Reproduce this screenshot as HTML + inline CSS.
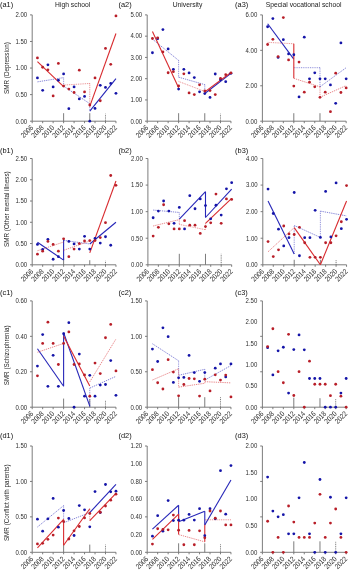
<!DOCTYPE html>
<html><head><meta charset="utf-8"><style>
html,body{margin:0;padding:0;background:#fff;width:350px;height:570px;overflow:hidden;position:relative}
svg text{filter:grayscale(1)}
</style></head><body>
<svg width="350" height="570" viewBox="0 0 350 570" style="position:absolute;left:0;top:0">
<g font-family='"Liberation Sans", sans-serif'>
<text x="72.7" y="7.1" font-size="6.75" fill="#222" text-anchor="middle">High school</text>
<text x="187.5" y="7.1" font-size="6.75" fill="#222" text-anchor="middle">University</text>
<text x="303.6" y="7.1" font-size="6.75" fill="#222" text-anchor="middle">Special vocational school</text>
<text transform="translate(9.0 68.0) rotate(-90)" font-size="6.3" fill="#262626" text-anchor="middle">SMR (Depression)</text>
<text transform="translate(9.0 209.1) rotate(-90)" font-size="6.3" fill="#262626" text-anchor="middle">SMR (Other mental illness)</text>
<text transform="translate(9.0 355.4) rotate(-90)" font-size="6.3" fill="#262626" text-anchor="middle">SMR (Schizophrenia)</text>
<text transform="translate(9.0 502.8) rotate(-90)" font-size="6.3" fill="#262626" text-anchor="middle">SMR (Conflict with parents)</text>
<text x="0" y="6.6" font-size="7.4" fill="#111">(a1)</text>
<path d="M32.2 14.9V121.2H115.96" fill="none" stroke="#6e6e6e" stroke-width="0.9"/>
<path d="M30 121.2H32.2M30 94.62H32.2M30 68.05H32.2M30 41.48H32.2M30 14.9H32.2M32.2 121.2v2.0M42.67 121.2v2.0M53.14 121.2v2.0M63.61 121.2v2.0M74.08 121.2v2.0M84.55 121.2v2.0M95.02 121.2v2.0M105.49 121.2v2.0M115.96 121.2v2.0" fill="none" stroke="#6e6e6e" stroke-width="0.9"/>
<path d="M63.61 121.2v-8" stroke="#6e6e6e" stroke-width="0.9"/>
<path d="M89.78 121.2v-8" stroke="#6e6e6e" stroke-width="0.9"/>
<path d="M105.49 121.2v-7.5" stroke="#6e6e6e" stroke-width="0.9" stroke-dasharray="1 0.8"/>
<text x="27.1" y="123.5" font-size="6.8" fill="#2e2e2e" text-anchor="end" textLength="11.7" lengthAdjust="spacingAndGlyphs">0.00</text>
<text x="27.1" y="96.92" font-size="6.8" fill="#2e2e2e" text-anchor="end" textLength="11.7" lengthAdjust="spacingAndGlyphs">0.50</text>
<text x="27.1" y="70.35" font-size="6.8" fill="#2e2e2e" text-anchor="end" textLength="11.7" lengthAdjust="spacingAndGlyphs">1.00</text>
<text x="27.1" y="43.78" font-size="6.8" fill="#2e2e2e" text-anchor="end" textLength="11.7" lengthAdjust="spacingAndGlyphs">1.50</text>
<text x="27.1" y="17.2" font-size="6.8" fill="#2e2e2e" text-anchor="end" textLength="11.7" lengthAdjust="spacingAndGlyphs">2.00</text>
<text transform="translate(33.8 128.3) rotate(-45)" font-size="7.4" fill="#2e2e2e" text-anchor="end" textLength="14.2" lengthAdjust="spacingAndGlyphs">2006</text>
<text transform="translate(44.27 128.3) rotate(-45)" font-size="7.4" fill="#2e2e2e" text-anchor="end" textLength="14.2" lengthAdjust="spacingAndGlyphs">2008</text>
<text transform="translate(54.74 128.3) rotate(-45)" font-size="7.4" fill="#2e2e2e" text-anchor="end" textLength="14.2" lengthAdjust="spacingAndGlyphs">2010</text>
<text transform="translate(65.21 128.3) rotate(-45)" font-size="7.4" fill="#2e2e2e" text-anchor="end" textLength="14.2" lengthAdjust="spacingAndGlyphs">2012</text>
<text transform="translate(75.68 128.3) rotate(-45)" font-size="7.4" fill="#2e2e2e" text-anchor="end" textLength="14.2" lengthAdjust="spacingAndGlyphs">2014</text>
<text transform="translate(86.15 128.3) rotate(-45)" font-size="7.4" fill="#2e2e2e" text-anchor="end" textLength="14.2" lengthAdjust="spacingAndGlyphs">2016</text>
<text transform="translate(96.62 128.3) rotate(-45)" font-size="7.4" fill="#2e2e2e" text-anchor="end" textLength="14.2" lengthAdjust="spacingAndGlyphs">2018</text>
<text transform="translate(107.09 128.3) rotate(-45)" font-size="7.4" fill="#2e2e2e" text-anchor="end" textLength="14.2" lengthAdjust="spacingAndGlyphs">2020</text>
<text transform="translate(117.56 128.3) rotate(-45)" font-size="7.4" fill="#2e2e2e" text-anchor="end" textLength="14.2" lengthAdjust="spacingAndGlyphs">2022</text>
<path d="M37.44 81.87 L63.61 77.62" fill="none" stroke="#2626b8" stroke-width="0.7" stroke-dasharray="1.3 0.9" opacity="0.8"/>
<path d="M63.61 77.62 L63.61 85.06" fill="none" stroke="#2626b8" stroke-width="0.7" stroke-dasharray="0.9 0.9" opacity="0.8"/>
<path d="M63.61 86.12 L89.78 103.66" fill="none" stroke="#2626b8" stroke-width="0.7" stroke-dasharray="1.3 0.9" opacity="0.8"/>
<path d="M89.78 111.1 L115.96 78.68" fill="none" stroke="#2626b8" stroke-width="1.1"/>
<path d="M89.78 103.66 L89.78 111.1" fill="none" stroke="#2626b8" stroke-width="0.7" stroke-dasharray="0.9 0.9" opacity="0.8"/>
<path d="M37.44 61.67 L63.61 86.65" fill="none" stroke="#d82a2e" stroke-width="1.1"/>
<path d="M63.61 85.06 L89.78 83.46" fill="none" stroke="#d82a2e" stroke-width="0.7" stroke-dasharray="0.9 0.9" opacity="0.8"/>
<path d="M89.78 83.46 L89.78 105.26" fill="none" stroke="#d82a2e" stroke-width="0.7" stroke-dasharray="0.9 0.9" opacity="0.8"/>
<path d="M89.78 106.32 L115.96 33.5" fill="none" stroke="#d82a2e" stroke-width="1.1"/>
<circle cx="37.44" cy="77.88" r="1.4" fill="#1414a8"/>
<circle cx="42.67" cy="90.37" r="1.4" fill="#1414a8"/>
<circle cx="47.91" cy="64.86" r="1.4" fill="#1414a8"/>
<circle cx="53.14" cy="86.92" r="1.4" fill="#1414a8"/>
<circle cx="58.38" cy="80.27" r="1.4" fill="#1414a8"/>
<circle cx="63.61" cy="73.9" r="1.4" fill="#1414a8"/>
<circle cx="68.84" cy="108.71" r="1.4" fill="#1414a8"/>
<circle cx="74.08" cy="86.92" r="1.4" fill="#1414a8"/>
<circle cx="79.31" cy="98.88" r="1.4" fill="#1414a8"/>
<circle cx="84.55" cy="96.43" r="1.4" fill="#1414a8"/>
<circle cx="89.78" cy="121.2" r="1.4" fill="#1414a8"/>
<circle cx="95.02" cy="108.44" r="1.4" fill="#1414a8"/>
<circle cx="100.26" cy="85.32" r="1.4" fill="#1414a8"/>
<circle cx="105.49" cy="87.45" r="1.4" fill="#1414a8"/>
<circle cx="110.73" cy="83.46" r="1.4" fill="#1414a8"/>
<circle cx="115.96" cy="93.3" r="1.4" fill="#1414a8"/>
<circle cx="37.44" cy="57.95" r="1.4" fill="#b81e28"/>
<circle cx="42.67" cy="67.25" r="1.4" fill="#b81e28"/>
<circle cx="47.91" cy="69.86" r="1.4" fill="#b81e28"/>
<circle cx="53.14" cy="95.95" r="1.4" fill="#b81e28"/>
<circle cx="58.38" cy="63.43" r="1.4" fill="#b81e28"/>
<circle cx="63.61" cy="86.12" r="1.4" fill="#b81e28"/>
<circle cx="68.84" cy="89.04" r="1.4" fill="#b81e28"/>
<circle cx="74.08" cy="92.5" r="1.4" fill="#b81e28"/>
<circle cx="79.31" cy="70.18" r="1.4" fill="#b81e28"/>
<circle cx="84.55" cy="91.97" r="1.4" fill="#b81e28"/>
<circle cx="89.78" cy="104.99" r="1.4" fill="#b81e28"/>
<circle cx="95.02" cy="77.88" r="1.4" fill="#b81e28"/>
<circle cx="100.26" cy="100.74" r="1.4" fill="#b81e28"/>
<circle cx="105.49" cy="48.38" r="1.4" fill="#b81e28"/>
<circle cx="110.73" cy="64.33" r="1.4" fill="#b81e28"/>
<circle cx="115.96" cy="15.96" r="1.4" fill="#b81e28"/>
<text x="118.5" y="6.6" font-size="7.4" fill="#111">(a2)</text>
<path d="M147.2 14.9V121.2H230.96" fill="none" stroke="#6e6e6e" stroke-width="0.9"/>
<path d="M145 121.2H147.2M145 99.94H147.2M145 78.68H147.2M145 57.42H147.2M145 36.16H147.2M145 14.9H147.2M147.2 121.2v2.0M157.67 121.2v2.0M168.14 121.2v2.0M178.61 121.2v2.0M189.08 121.2v2.0M199.55 121.2v2.0M210.02 121.2v2.0M220.49 121.2v2.0M230.96 121.2v2.0" fill="none" stroke="#6e6e6e" stroke-width="0.9"/>
<path d="M178.61 121.2v-8" stroke="#6e6e6e" stroke-width="0.9"/>
<path d="M204.78 121.2v-8" stroke="#6e6e6e" stroke-width="0.9"/>
<path d="M220.49 121.2v-7.5" stroke="#6e6e6e" stroke-width="0.9" stroke-dasharray="1 0.8"/>
<text x="142.1" y="123.5" font-size="6.8" fill="#2e2e2e" text-anchor="end" textLength="11.7" lengthAdjust="spacingAndGlyphs">0.00</text>
<text x="142.1" y="102.24" font-size="6.8" fill="#2e2e2e" text-anchor="end" textLength="11.7" lengthAdjust="spacingAndGlyphs">1.00</text>
<text x="142.1" y="80.98" font-size="6.8" fill="#2e2e2e" text-anchor="end" textLength="11.7" lengthAdjust="spacingAndGlyphs">2.00</text>
<text x="142.1" y="59.72" font-size="6.8" fill="#2e2e2e" text-anchor="end" textLength="11.7" lengthAdjust="spacingAndGlyphs">3.00</text>
<text x="142.1" y="38.46" font-size="6.8" fill="#2e2e2e" text-anchor="end" textLength="11.7" lengthAdjust="spacingAndGlyphs">4.00</text>
<text x="142.1" y="17.2" font-size="6.8" fill="#2e2e2e" text-anchor="end" textLength="11.7" lengthAdjust="spacingAndGlyphs">5.00</text>
<text transform="translate(148.8 128.3) rotate(-45)" font-size="7.4" fill="#2e2e2e" text-anchor="end" textLength="14.2" lengthAdjust="spacingAndGlyphs">2006</text>
<text transform="translate(159.27 128.3) rotate(-45)" font-size="7.4" fill="#2e2e2e" text-anchor="end" textLength="14.2" lengthAdjust="spacingAndGlyphs">2008</text>
<text transform="translate(169.74 128.3) rotate(-45)" font-size="7.4" fill="#2e2e2e" text-anchor="end" textLength="14.2" lengthAdjust="spacingAndGlyphs">2010</text>
<text transform="translate(180.21 128.3) rotate(-45)" font-size="7.4" fill="#2e2e2e" text-anchor="end" textLength="14.2" lengthAdjust="spacingAndGlyphs">2012</text>
<text transform="translate(190.68 128.3) rotate(-45)" font-size="7.4" fill="#2e2e2e" text-anchor="end" textLength="14.2" lengthAdjust="spacingAndGlyphs">2014</text>
<text transform="translate(201.15 128.3) rotate(-45)" font-size="7.4" fill="#2e2e2e" text-anchor="end" textLength="14.2" lengthAdjust="spacingAndGlyphs">2016</text>
<text transform="translate(211.62 128.3) rotate(-45)" font-size="7.4" fill="#2e2e2e" text-anchor="end" textLength="14.2" lengthAdjust="spacingAndGlyphs">2018</text>
<text transform="translate(222.09 128.3) rotate(-45)" font-size="7.4" fill="#2e2e2e" text-anchor="end" textLength="14.2" lengthAdjust="spacingAndGlyphs">2020</text>
<text transform="translate(232.56 128.3) rotate(-45)" font-size="7.4" fill="#2e2e2e" text-anchor="end" textLength="14.2" lengthAdjust="spacingAndGlyphs">2022</text>
<path d="M152.44 39.14 L178.61 60.4" fill="none" stroke="#2626b8" stroke-width="0.7" stroke-dasharray="1.3 0.9" opacity="0.8"/>
<path d="M178.61 60.4 L178.61 77.19" fill="none" stroke="#2626b8" stroke-width="0.7" stroke-dasharray="0.9 0.9" opacity="0.8"/>
<path d="M178.61 77.19 L204.78 84.63" fill="none" stroke="#2626b8" stroke-width="0.7" stroke-dasharray="1.3 0.9" opacity="0.8"/>
<path d="M204.78 84.63 L204.78 92.5" fill="none" stroke="#2626b8" stroke-width="0.7" stroke-dasharray="0.9 0.9" opacity="0.8"/>
<path d="M204.78 93.56 L230.96 73.37" fill="none" stroke="#2626b8" stroke-width="1.1"/>
<path d="M152.44 31.48 L178.61 87.82" fill="none" stroke="#d82a2e" stroke-width="1.1"/>
<path d="M178.61 81.44 L204.78 91.44" fill="none" stroke="#d82a2e" stroke-width="0.7" stroke-dasharray="0.9 0.9" opacity="0.8"/>
<path d="M204.78 91.86 L230.96 72.51" fill="none" stroke="#d82a2e" stroke-width="1.1"/>
<circle cx="152.44" cy="52.74" r="1.4" fill="#1414a8"/>
<circle cx="157.67" cy="38.71" r="1.4" fill="#1414a8"/>
<circle cx="162.91" cy="29.57" r="1.4" fill="#1414a8"/>
<circle cx="168.14" cy="48.92" r="1.4" fill="#1414a8"/>
<circle cx="173.38" cy="69.33" r="1.4" fill="#1414a8"/>
<circle cx="178.61" cy="89.1" r="1.4" fill="#1414a8"/>
<circle cx="183.84" cy="69.33" r="1.4" fill="#1414a8"/>
<circle cx="189.08" cy="72.94" r="1.4" fill="#1414a8"/>
<circle cx="194.31" cy="77.62" r="1.4" fill="#1414a8"/>
<circle cx="199.55" cy="91.86" r="1.4" fill="#1414a8"/>
<circle cx="204.78" cy="93.56" r="1.4" fill="#1414a8"/>
<circle cx="210.02" cy="97.39" r="1.4" fill="#1414a8"/>
<circle cx="215.25" cy="74" r="1.4" fill="#1414a8"/>
<circle cx="220.49" cy="79.74" r="1.4" fill="#1414a8"/>
<circle cx="225.72" cy="81.66" r="1.4" fill="#1414a8"/>
<circle cx="230.96" cy="73.37" r="1.4" fill="#1414a8"/>
<circle cx="152.44" cy="38.5" r="1.4" fill="#b81e28"/>
<circle cx="157.67" cy="37.86" r="1.4" fill="#b81e28"/>
<circle cx="162.91" cy="51.89" r="1.4" fill="#b81e28"/>
<circle cx="168.14" cy="72.73" r="1.4" fill="#b81e28"/>
<circle cx="173.38" cy="71.66" r="1.4" fill="#b81e28"/>
<circle cx="178.61" cy="85.91" r="1.4" fill="#b81e28"/>
<circle cx="183.84" cy="73.79" r="1.4" fill="#b81e28"/>
<circle cx="189.08" cy="92.92" r="1.4" fill="#b81e28"/>
<circle cx="194.31" cy="94.62" r="1.4" fill="#b81e28"/>
<circle cx="199.55" cy="84.85" r="1.4" fill="#b81e28"/>
<circle cx="204.78" cy="91.01" r="1.4" fill="#b81e28"/>
<circle cx="210.02" cy="90.59" r="1.4" fill="#b81e28"/>
<circle cx="215.25" cy="94.62" r="1.4" fill="#b81e28"/>
<circle cx="220.49" cy="78.47" r="1.4" fill="#b81e28"/>
<circle cx="225.72" cy="74.64" r="1.4" fill="#b81e28"/>
<circle cx="230.96" cy="72.94" r="1.4" fill="#b81e28"/>
<text x="235.1" y="6.6" font-size="7.4" fill="#111">(a3)</text>
<path d="M262.4 14.9V121.2H346.16" fill="none" stroke="#6e6e6e" stroke-width="0.9"/>
<path d="M260.2 121.2H262.4M260.2 85.77H262.4M260.2 50.33H262.4M260.2 14.9H262.4M262.4 121.2v2.0M272.87 121.2v2.0M283.34 121.2v2.0M293.81 121.2v2.0M304.28 121.2v2.0M314.75 121.2v2.0M325.22 121.2v2.0M335.69 121.2v2.0M346.16 121.2v2.0" fill="none" stroke="#6e6e6e" stroke-width="0.9"/>
<path d="M293.81 121.2v-8" stroke="#6e6e6e" stroke-width="0.9"/>
<path d="M319.98 121.2v-8" stroke="#6e6e6e" stroke-width="0.9"/>
<text x="257.3" y="123.5" font-size="6.8" fill="#2e2e2e" text-anchor="end" textLength="11.7" lengthAdjust="spacingAndGlyphs">0.00</text>
<text x="257.3" y="88.07" font-size="6.8" fill="#2e2e2e" text-anchor="end" textLength="11.7" lengthAdjust="spacingAndGlyphs">2.00</text>
<text x="257.3" y="52.63" font-size="6.8" fill="#2e2e2e" text-anchor="end" textLength="11.7" lengthAdjust="spacingAndGlyphs">4.00</text>
<text x="257.3" y="17.2" font-size="6.8" fill="#2e2e2e" text-anchor="end" textLength="11.7" lengthAdjust="spacingAndGlyphs">6.00</text>
<text transform="translate(264 128.3) rotate(-45)" font-size="7.4" fill="#2e2e2e" text-anchor="end" textLength="14.2" lengthAdjust="spacingAndGlyphs">2006</text>
<text transform="translate(274.47 128.3) rotate(-45)" font-size="7.4" fill="#2e2e2e" text-anchor="end" textLength="14.2" lengthAdjust="spacingAndGlyphs">2008</text>
<text transform="translate(284.94 128.3) rotate(-45)" font-size="7.4" fill="#2e2e2e" text-anchor="end" textLength="14.2" lengthAdjust="spacingAndGlyphs">2010</text>
<text transform="translate(295.41 128.3) rotate(-45)" font-size="7.4" fill="#2e2e2e" text-anchor="end" textLength="14.2" lengthAdjust="spacingAndGlyphs">2012</text>
<text transform="translate(305.88 128.3) rotate(-45)" font-size="7.4" fill="#2e2e2e" text-anchor="end" textLength="14.2" lengthAdjust="spacingAndGlyphs">2014</text>
<text transform="translate(316.35 128.3) rotate(-45)" font-size="7.4" fill="#2e2e2e" text-anchor="end" textLength="14.2" lengthAdjust="spacingAndGlyphs">2016</text>
<text transform="translate(326.82 128.3) rotate(-45)" font-size="7.4" fill="#2e2e2e" text-anchor="end" textLength="14.2" lengthAdjust="spacingAndGlyphs">2018</text>
<text transform="translate(337.29 128.3) rotate(-45)" font-size="7.4" fill="#2e2e2e" text-anchor="end" textLength="14.2" lengthAdjust="spacingAndGlyphs">2020</text>
<text transform="translate(347.76 128.3) rotate(-45)" font-size="7.4" fill="#2e2e2e" text-anchor="end" textLength="14.2" lengthAdjust="spacingAndGlyphs">2022</text>
<path d="M267.63 23.76 L293.81 59.19" fill="none" stroke="#2626b8" stroke-width="1.1"/>
<path d="M293.81 67.7 L319.98 67.7" fill="none" stroke="#2626b8" stroke-width="0.7" stroke-dasharray="0.9 0.9" opacity="0.8"/>
<path d="M319.98 67.7 L319.98 86.83" fill="none" stroke="#2626b8" stroke-width="0.7" stroke-dasharray="0.9 0.9" opacity="0.8"/>
<path d="M319.98 86.83 L346.16 67.7" fill="none" stroke="#2626b8" stroke-width="0.7" stroke-dasharray="1.3 0.9" opacity="0.8"/>
<path d="M267.63 42.36 L293.81 43.78" fill="none" stroke="#d82a2e" stroke-width="0.7" stroke-dasharray="0.9 0.9" opacity="0.8"/>
<path d="M293.81 43.78 L293.81 78.33" fill="none" stroke="#d82a2e" stroke-width="1.1"/>
<path d="M293.81 78.33 L319.98 86.83" fill="none" stroke="#d82a2e" stroke-width="0.7" stroke-dasharray="1.3 0.9" opacity="0.8"/>
<path d="M319.98 86.83 L319.98 97.28" fill="none" stroke="#d82a2e" stroke-width="0.7" stroke-dasharray="0.9 0.9" opacity="0.8"/>
<path d="M319.98 97.28 L346.16 85.59" fill="none" stroke="#d82a2e" stroke-width="0.7" stroke-dasharray="1.3 0.9" opacity="0.8"/>
<circle cx="267.63" cy="26.77" r="1.4" fill="#1414a8"/>
<circle cx="272.87" cy="18.62" r="1.4" fill="#1414a8"/>
<circle cx="278.1" cy="57.42" r="1.4" fill="#1414a8"/>
<circle cx="283.34" cy="39.7" r="1.4" fill="#1414a8"/>
<circle cx="288.57" cy="53.88" r="1.4" fill="#1414a8"/>
<circle cx="293.81" cy="54.76" r="1.4" fill="#1414a8"/>
<circle cx="299.04" cy="96.93" r="1.4" fill="#1414a8"/>
<circle cx="304.28" cy="37.22" r="1.4" fill="#1414a8"/>
<circle cx="309.51" cy="78.86" r="1.4" fill="#1414a8"/>
<circle cx="314.75" cy="72.83" r="1.4" fill="#1414a8"/>
<circle cx="319.98" cy="78.86" r="1.4" fill="#1414a8"/>
<circle cx="325.22" cy="78.86" r="1.4" fill="#1414a8"/>
<circle cx="330.45" cy="84.88" r="1.4" fill="#1414a8"/>
<circle cx="335.69" cy="103.31" r="1.4" fill="#1414a8"/>
<circle cx="340.92" cy="42.89" r="1.4" fill="#1414a8"/>
<circle cx="346.16" cy="78.86" r="1.4" fill="#1414a8"/>
<circle cx="267.63" cy="44.49" r="1.4" fill="#b81e28"/>
<circle cx="272.87" cy="39.35" r="1.4" fill="#b81e28"/>
<circle cx="278.1" cy="56.53" r="1.4" fill="#b81e28"/>
<circle cx="283.34" cy="17.56" r="1.4" fill="#b81e28"/>
<circle cx="288.57" cy="59.9" r="1.4" fill="#b81e28"/>
<circle cx="293.81" cy="86.12" r="1.4" fill="#b81e28"/>
<circle cx="299.04" cy="62.03" r="1.4" fill="#b81e28"/>
<circle cx="304.28" cy="92.14" r="1.4" fill="#b81e28"/>
<circle cx="309.51" cy="82.22" r="1.4" fill="#b81e28"/>
<circle cx="314.75" cy="86.83" r="1.4" fill="#b81e28"/>
<circle cx="319.98" cy="97.28" r="1.4" fill="#b81e28"/>
<circle cx="325.22" cy="92.14" r="1.4" fill="#b81e28"/>
<circle cx="330.45" cy="111.63" r="1.4" fill="#b81e28"/>
<circle cx="335.69" cy="73.19" r="1.4" fill="#b81e28"/>
<circle cx="340.92" cy="92.5" r="1.4" fill="#b81e28"/>
<circle cx="346.16" cy="87.89" r="1.4" fill="#b81e28"/>
<text x="0" y="153.1" font-size="7.4" fill="#111">(b1)</text>
<path d="M32.2 158.5V264.8H115.96" fill="none" stroke="#6e6e6e" stroke-width="0.9"/>
<path d="M30 264.8H32.2M30 243.54H32.2M30 222.28H32.2M30 201.02H32.2M30 179.76H32.2M30 158.5H32.2M32.2 264.8v2.0M42.67 264.8v2.0M53.14 264.8v2.0M63.61 264.8v2.0M74.08 264.8v2.0M84.55 264.8v2.0M95.02 264.8v2.0M105.49 264.8v2.0M115.96 264.8v2.0" fill="none" stroke="#6e6e6e" stroke-width="0.9"/>
<path d="M63.61 264.8v-6" stroke="#6e6e6e" stroke-width="0.9"/>
<path d="M89.78 264.8v-4.6" stroke="#6e6e6e" stroke-width="0.9"/>
<path d="M105.49 264.8v-4" stroke="#6e6e6e" stroke-width="0.9" stroke-dasharray="1 0.8"/>
<text x="27.1" y="267.1" font-size="6.8" fill="#2e2e2e" text-anchor="end" textLength="11.7" lengthAdjust="spacingAndGlyphs">0.00</text>
<text x="27.1" y="245.84" font-size="6.8" fill="#2e2e2e" text-anchor="end" textLength="11.7" lengthAdjust="spacingAndGlyphs">0.50</text>
<text x="27.1" y="224.58" font-size="6.8" fill="#2e2e2e" text-anchor="end" textLength="11.7" lengthAdjust="spacingAndGlyphs">1.00</text>
<text x="27.1" y="203.32" font-size="6.8" fill="#2e2e2e" text-anchor="end" textLength="11.7" lengthAdjust="spacingAndGlyphs">1.50</text>
<text x="27.1" y="182.06" font-size="6.8" fill="#2e2e2e" text-anchor="end" textLength="11.7" lengthAdjust="spacingAndGlyphs">2.00</text>
<text x="27.1" y="160.8" font-size="6.8" fill="#2e2e2e" text-anchor="end" textLength="11.7" lengthAdjust="spacingAndGlyphs">2.50</text>
<text transform="translate(33.8 271.9) rotate(-45)" font-size="7.4" fill="#2e2e2e" text-anchor="end" textLength="14.2" lengthAdjust="spacingAndGlyphs">2006</text>
<text transform="translate(44.27 271.9) rotate(-45)" font-size="7.4" fill="#2e2e2e" text-anchor="end" textLength="14.2" lengthAdjust="spacingAndGlyphs">2008</text>
<text transform="translate(54.74 271.9) rotate(-45)" font-size="7.4" fill="#2e2e2e" text-anchor="end" textLength="14.2" lengthAdjust="spacingAndGlyphs">2010</text>
<text transform="translate(65.21 271.9) rotate(-45)" font-size="7.4" fill="#2e2e2e" text-anchor="end" textLength="14.2" lengthAdjust="spacingAndGlyphs">2012</text>
<text transform="translate(75.68 271.9) rotate(-45)" font-size="7.4" fill="#2e2e2e" text-anchor="end" textLength="14.2" lengthAdjust="spacingAndGlyphs">2014</text>
<text transform="translate(86.15 271.9) rotate(-45)" font-size="7.4" fill="#2e2e2e" text-anchor="end" textLength="14.2" lengthAdjust="spacingAndGlyphs">2016</text>
<text transform="translate(96.62 271.9) rotate(-45)" font-size="7.4" fill="#2e2e2e" text-anchor="end" textLength="14.2" lengthAdjust="spacingAndGlyphs">2018</text>
<text transform="translate(107.09 271.9) rotate(-45)" font-size="7.4" fill="#2e2e2e" text-anchor="end" textLength="14.2" lengthAdjust="spacingAndGlyphs">2020</text>
<text transform="translate(117.56 271.9) rotate(-45)" font-size="7.4" fill="#2e2e2e" text-anchor="end" textLength="14.2" lengthAdjust="spacingAndGlyphs">2022</text>
<path d="M37.44 242.26 L63.61 260.12" fill="none" stroke="#2626b8" stroke-width="1.1"/>
<path d="M63.61 260.12 L63.61 239.29" fill="none" stroke="#2626b8" stroke-width="1.1"/>
<path d="M63.61 240.35 L89.78 243.97" fill="none" stroke="#2626b8" stroke-width="0.7" stroke-dasharray="1.3 0.9" opacity="0.8"/>
<path d="M89.78 243.97 L115.96 222.28" fill="none" stroke="#2626b8" stroke-width="1.1"/>
<path d="M37.44 250.77 L63.61 242.05" fill="none" stroke="#d82a2e" stroke-width="0.7" stroke-dasharray="1.3 0.9" opacity="0.8"/>
<path d="M63.61 250.34 L89.78 240.99" fill="none" stroke="#d82a2e" stroke-width="0.7" stroke-dasharray="1.3 0.9" opacity="0.8"/>
<path d="M89.78 252.89 L115.96 181.04" fill="none" stroke="#d82a2e" stroke-width="1.1"/>
<circle cx="37.44" cy="244.39" r="1.4" fill="#1414a8"/>
<circle cx="42.67" cy="249.49" r="1.4" fill="#1414a8"/>
<circle cx="47.91" cy="239.29" r="1.4" fill="#1414a8"/>
<circle cx="53.14" cy="259.27" r="1.4" fill="#1414a8"/>
<circle cx="58.38" cy="256.72" r="1.4" fill="#1414a8"/>
<circle cx="68.84" cy="241.41" r="1.4" fill="#1414a8"/>
<circle cx="74.08" cy="243.97" r="1.4" fill="#1414a8"/>
<circle cx="79.31" cy="249.07" r="1.4" fill="#1414a8"/>
<circle cx="84.55" cy="236.31" r="1.4" fill="#1414a8"/>
<circle cx="89.78" cy="249.07" r="1.4" fill="#1414a8"/>
<circle cx="95.02" cy="238.44" r="1.4" fill="#1414a8"/>
<circle cx="100.26" cy="243.11" r="1.4" fill="#1414a8"/>
<circle cx="105.49" cy="236.74" r="1.4" fill="#1414a8"/>
<circle cx="110.73" cy="245.24" r="1.4" fill="#1414a8"/>
<circle cx="37.44" cy="254.17" r="1.4" fill="#b81e28"/>
<circle cx="42.67" cy="251.19" r="1.4" fill="#b81e28"/>
<circle cx="47.91" cy="241.41" r="1.4" fill="#b81e28"/>
<circle cx="53.14" cy="244.39" r="1.4" fill="#b81e28"/>
<circle cx="58.38" cy="251.19" r="1.4" fill="#b81e28"/>
<circle cx="63.61" cy="238.86" r="1.4" fill="#b81e28"/>
<circle cx="68.84" cy="256.72" r="1.4" fill="#b81e28"/>
<circle cx="74.08" cy="249.07" r="1.4" fill="#b81e28"/>
<circle cx="79.31" cy="243.54" r="1.4" fill="#b81e28"/>
<circle cx="84.55" cy="240.99" r="1.4" fill="#b81e28"/>
<circle cx="89.78" cy="240.56" r="1.4" fill="#b81e28"/>
<circle cx="95.02" cy="240.56" r="1.4" fill="#b81e28"/>
<circle cx="100.26" cy="237.59" r="1.4" fill="#b81e28"/>
<circle cx="105.49" cy="222.71" r="1.4" fill="#b81e28"/>
<circle cx="110.73" cy="175.51" r="1.4" fill="#b81e28"/>
<circle cx="115.96" cy="185.29" r="1.4" fill="#b81e28"/>
<text x="118.5" y="153.1" font-size="7.4" fill="#111">(b2)</text>
<path d="M147.9 158.5V264.8H231.66" fill="none" stroke="#6e6e6e" stroke-width="0.9"/>
<path d="M145.7 264.8H147.9M145.7 238.23H147.9M145.7 211.65H147.9M145.7 185.08H147.9M145.7 158.5H147.9M147.9 264.8v2.0M158.37 264.8v2.0M168.84 264.8v2.0M179.31 264.8v2.0M189.78 264.8v2.0M200.25 264.8v2.0M210.72 264.8v2.0M221.19 264.8v2.0M231.66 264.8v2.0" fill="none" stroke="#6e6e6e" stroke-width="0.9"/>
<path d="M179.31 264.8v-11" stroke="#6e6e6e" stroke-width="0.9"/>
<path d="M205.49 264.8v-11" stroke="#6e6e6e" stroke-width="0.9"/>
<path d="M221.19 264.8v-11" stroke="#6e6e6e" stroke-width="0.9" stroke-dasharray="1 0.8"/>
<text x="142.8" y="267.1" font-size="6.8" fill="#2e2e2e" text-anchor="end" textLength="11.7" lengthAdjust="spacingAndGlyphs">0.00</text>
<text x="142.8" y="240.53" font-size="6.8" fill="#2e2e2e" text-anchor="end" textLength="11.7" lengthAdjust="spacingAndGlyphs">0.50</text>
<text x="142.8" y="213.95" font-size="6.8" fill="#2e2e2e" text-anchor="end" textLength="11.7" lengthAdjust="spacingAndGlyphs">1.00</text>
<text x="142.8" y="187.38" font-size="6.8" fill="#2e2e2e" text-anchor="end" textLength="11.7" lengthAdjust="spacingAndGlyphs">1.50</text>
<text x="142.8" y="160.8" font-size="6.8" fill="#2e2e2e" text-anchor="end" textLength="11.7" lengthAdjust="spacingAndGlyphs">2.00</text>
<text transform="translate(149.5 271.9) rotate(-45)" font-size="7.4" fill="#2e2e2e" text-anchor="end" textLength="14.2" lengthAdjust="spacingAndGlyphs">2006</text>
<text transform="translate(159.97 271.9) rotate(-45)" font-size="7.4" fill="#2e2e2e" text-anchor="end" textLength="14.2" lengthAdjust="spacingAndGlyphs">2008</text>
<text transform="translate(170.44 271.9) rotate(-45)" font-size="7.4" fill="#2e2e2e" text-anchor="end" textLength="14.2" lengthAdjust="spacingAndGlyphs">2010</text>
<text transform="translate(180.91 271.9) rotate(-45)" font-size="7.4" fill="#2e2e2e" text-anchor="end" textLength="14.2" lengthAdjust="spacingAndGlyphs">2012</text>
<text transform="translate(191.38 271.9) rotate(-45)" font-size="7.4" fill="#2e2e2e" text-anchor="end" textLength="14.2" lengthAdjust="spacingAndGlyphs">2014</text>
<text transform="translate(201.85 271.9) rotate(-45)" font-size="7.4" fill="#2e2e2e" text-anchor="end" textLength="14.2" lengthAdjust="spacingAndGlyphs">2016</text>
<text transform="translate(212.32 271.9) rotate(-45)" font-size="7.4" fill="#2e2e2e" text-anchor="end" textLength="14.2" lengthAdjust="spacingAndGlyphs">2018</text>
<text transform="translate(222.79 271.9) rotate(-45)" font-size="7.4" fill="#2e2e2e" text-anchor="end" textLength="14.2" lengthAdjust="spacingAndGlyphs">2020</text>
<text transform="translate(233.26 271.9) rotate(-45)" font-size="7.4" fill="#2e2e2e" text-anchor="end" textLength="14.2" lengthAdjust="spacingAndGlyphs">2022</text>
<path d="M153.14 210.06 L179.31 212.45" fill="none" stroke="#2626b8" stroke-width="0.7" stroke-dasharray="1.3 0.9" opacity="0.8"/>
<path d="M179.31 212.45 L179.31 219.09" fill="none" stroke="#2626b8" stroke-width="0.7" stroke-dasharray="0.9 0.9" opacity="0.8"/>
<path d="M179.31 219.09 L205.49 191.72" fill="none" stroke="#2626b8" stroke-width="1.1"/>
<path d="M205.49 191.72 L205.49 217.5" fill="none" stroke="#2626b8" stroke-width="1.1"/>
<path d="M205.49 217.5 L231.66 189.06" fill="none" stroke="#2626b8" stroke-width="1.1"/>
<path d="M153.14 226 L179.31 219.62" fill="none" stroke="#d82a2e" stroke-width="0.7" stroke-dasharray="1.3 0.9" opacity="0.8"/>
<path d="M179.31 219.62 L179.31 224.41" fill="none" stroke="#d82a2e" stroke-width="0.7" stroke-dasharray="0.9 0.9" opacity="0.8"/>
<path d="M179.31 224.41 L205.49 229.72" fill="none" stroke="#d82a2e" stroke-width="0.7" stroke-dasharray="0.9 0.9" opacity="0.8"/>
<path d="M205.49 229.72 L205.49 223.34" fill="none" stroke="#d82a2e" stroke-width="0.7" stroke-dasharray="0.9 0.9" opacity="0.8"/>
<path d="M205.49 223.34 L231.66 198.36" fill="none" stroke="#d82a2e" stroke-width="1.1"/>
<circle cx="153.14" cy="217.76" r="1.4" fill="#1414a8"/>
<circle cx="158.37" cy="211.12" r="1.4" fill="#1414a8"/>
<circle cx="163.61" cy="201.02" r="1.4" fill="#1414a8"/>
<circle cx="168.84" cy="211.12" r="1.4" fill="#1414a8"/>
<circle cx="174.08" cy="223.34" r="1.4" fill="#1414a8"/>
<circle cx="179.31" cy="207.4" r="1.4" fill="#1414a8"/>
<circle cx="184.55" cy="228.92" r="1.4" fill="#1414a8"/>
<circle cx="189.78" cy="195.71" r="1.4" fill="#1414a8"/>
<circle cx="195.02" cy="208.73" r="1.4" fill="#1414a8"/>
<circle cx="200.25" cy="198.89" r="1.4" fill="#1414a8"/>
<circle cx="205.49" cy="205.54" r="1.4" fill="#1414a8"/>
<circle cx="210.72" cy="218.83" r="1.4" fill="#1414a8"/>
<circle cx="215.96" cy="205.27" r="1.4" fill="#1414a8"/>
<circle cx="221.19" cy="215.1" r="1.4" fill="#1414a8"/>
<circle cx="226.43" cy="188.8" r="1.4" fill="#1414a8"/>
<circle cx="231.66" cy="182.68" r="1.4" fill="#1414a8"/>
<circle cx="153.14" cy="236.1" r="1.4" fill="#b81e28"/>
<circle cx="158.37" cy="227.33" r="1.4" fill="#b81e28"/>
<circle cx="163.61" cy="204.74" r="1.4" fill="#b81e28"/>
<circle cx="168.84" cy="223.87" r="1.4" fill="#b81e28"/>
<circle cx="174.08" cy="228.92" r="1.4" fill="#b81e28"/>
<circle cx="179.31" cy="228.92" r="1.4" fill="#b81e28"/>
<circle cx="184.55" cy="220.69" r="1.4" fill="#b81e28"/>
<circle cx="189.78" cy="225.2" r="1.4" fill="#b81e28"/>
<circle cx="195.02" cy="225.2" r="1.4" fill="#b81e28"/>
<circle cx="200.25" cy="233.44" r="1.4" fill="#b81e28"/>
<circle cx="205.49" cy="226.53" r="1.4" fill="#b81e28"/>
<circle cx="210.72" cy="222.81" r="1.4" fill="#b81e28"/>
<circle cx="215.96" cy="194.11" r="1.4" fill="#b81e28"/>
<circle cx="221.19" cy="223.34" r="1.4" fill="#b81e28"/>
<circle cx="226.43" cy="198.89" r="1.4" fill="#b81e28"/>
<circle cx="231.66" cy="199.43" r="1.4" fill="#b81e28"/>
<text x="235.1" y="153.1" font-size="7.4" fill="#111">(b3)</text>
<path d="M262.8 158.5V264.8H346.56" fill="none" stroke="#6e6e6e" stroke-width="0.9"/>
<path d="M260.6 264.8H262.8M260.6 238.23H262.8M260.6 211.65H262.8M260.6 185.08H262.8M260.6 158.5H262.8M262.8 264.8v2.0M273.27 264.8v2.0M283.74 264.8v2.0M294.21 264.8v2.0M304.68 264.8v2.0M315.15 264.8v2.0M325.62 264.8v2.0M336.09 264.8v2.0M346.56 264.8v2.0" fill="none" stroke="#6e6e6e" stroke-width="0.9"/>
<path d="M294.21 264.8v-5" stroke="#6e6e6e" stroke-width="0.9"/>
<path d="M320.38 264.8v-5" stroke="#6e6e6e" stroke-width="0.9"/>
<path d="M336.09 264.8v-5" stroke="#6e6e6e" stroke-width="0.9" stroke-dasharray="1 0.8"/>
<text x="257.7" y="267.1" font-size="6.8" fill="#2e2e2e" text-anchor="end" textLength="11.7" lengthAdjust="spacingAndGlyphs">0.00</text>
<text x="257.7" y="240.53" font-size="6.8" fill="#2e2e2e" text-anchor="end" textLength="11.7" lengthAdjust="spacingAndGlyphs">1.00</text>
<text x="257.7" y="213.95" font-size="6.8" fill="#2e2e2e" text-anchor="end" textLength="11.7" lengthAdjust="spacingAndGlyphs">2.00</text>
<text x="257.7" y="187.38" font-size="6.8" fill="#2e2e2e" text-anchor="end" textLength="11.7" lengthAdjust="spacingAndGlyphs">3.00</text>
<text x="257.7" y="160.8" font-size="6.8" fill="#2e2e2e" text-anchor="end" textLength="11.7" lengthAdjust="spacingAndGlyphs">4.00</text>
<text transform="translate(264.4 271.9) rotate(-45)" font-size="7.4" fill="#2e2e2e" text-anchor="end" textLength="14.2" lengthAdjust="spacingAndGlyphs">2006</text>
<text transform="translate(274.87 271.9) rotate(-45)" font-size="7.4" fill="#2e2e2e" text-anchor="end" textLength="14.2" lengthAdjust="spacingAndGlyphs">2008</text>
<text transform="translate(285.34 271.9) rotate(-45)" font-size="7.4" fill="#2e2e2e" text-anchor="end" textLength="14.2" lengthAdjust="spacingAndGlyphs">2010</text>
<text transform="translate(295.81 271.9) rotate(-45)" font-size="7.4" fill="#2e2e2e" text-anchor="end" textLength="14.2" lengthAdjust="spacingAndGlyphs">2012</text>
<text transform="translate(306.28 271.9) rotate(-45)" font-size="7.4" fill="#2e2e2e" text-anchor="end" textLength="14.2" lengthAdjust="spacingAndGlyphs">2014</text>
<text transform="translate(316.75 271.9) rotate(-45)" font-size="7.4" fill="#2e2e2e" text-anchor="end" textLength="14.2" lengthAdjust="spacingAndGlyphs">2016</text>
<text transform="translate(327.22 271.9) rotate(-45)" font-size="7.4" fill="#2e2e2e" text-anchor="end" textLength="14.2" lengthAdjust="spacingAndGlyphs">2018</text>
<text transform="translate(337.69 271.9) rotate(-45)" font-size="7.4" fill="#2e2e2e" text-anchor="end" textLength="14.2" lengthAdjust="spacingAndGlyphs">2020</text>
<text transform="translate(348.16 271.9) rotate(-45)" font-size="7.4" fill="#2e2e2e" text-anchor="end" textLength="14.2" lengthAdjust="spacingAndGlyphs">2022</text>
<path d="M268.04 201.02 L294.21 253.9" fill="none" stroke="#2626b8" stroke-width="1.1"/>
<path d="M294.21 253.9 L294.21 225.47" fill="none" stroke="#2626b8" stroke-width="0.7" stroke-dasharray="0.9 0.9" opacity="0.8"/>
<path d="M294.21 225.47 L320.38 237.43" fill="none" stroke="#2626b8" stroke-width="0.7" stroke-dasharray="1.3 0.9" opacity="0.8"/>
<path d="M320.38 237.43 L320.38 211.12" fill="none" stroke="#2626b8" stroke-width="0.7" stroke-dasharray="0.9 0.9" opacity="0.8"/>
<path d="M320.38 211.12 L346.56 215.9" fill="none" stroke="#2626b8" stroke-width="0.7" stroke-dasharray="1.3 0.9" opacity="0.8"/>
<path d="M268.04 251.78 L294.21 227.6" fill="none" stroke="#d82a2e" stroke-width="0.7" stroke-dasharray="1.3 0.9" opacity="0.8"/>
<path d="M294.21 227.6 L320.38 264.8" fill="none" stroke="#d82a2e" stroke-width="1.1"/>
<path d="M320.38 264.8 L346.56 201.02" fill="none" stroke="#d82a2e" stroke-width="1.1"/>
<circle cx="268.04" cy="189.06" r="1.4" fill="#1414a8"/>
<circle cx="273.27" cy="213.51" r="1.4" fill="#1414a8"/>
<circle cx="278.5" cy="229.19" r="1.4" fill="#1414a8"/>
<circle cx="283.74" cy="245.93" r="1.4" fill="#1414a8"/>
<circle cx="288.98" cy="237.69" r="1.4" fill="#1414a8"/>
<circle cx="294.21" cy="192.52" r="1.4" fill="#1414a8"/>
<circle cx="299.44" cy="255.76" r="1.4" fill="#1414a8"/>
<circle cx="304.68" cy="237.69" r="1.4" fill="#1414a8"/>
<circle cx="309.92" cy="237.69" r="1.4" fill="#1414a8"/>
<circle cx="315.15" cy="210.32" r="1.4" fill="#1414a8"/>
<circle cx="320.38" cy="237.43" r="1.4" fill="#1414a8"/>
<circle cx="325.62" cy="191.45" r="1.4" fill="#1414a8"/>
<circle cx="330.86" cy="236.9" r="1.4" fill="#1414a8"/>
<circle cx="336.09" cy="182.95" r="1.4" fill="#1414a8"/>
<circle cx="341.33" cy="228.66" r="1.4" fill="#1414a8"/>
<circle cx="346.56" cy="219.36" r="1.4" fill="#1414a8"/>
<circle cx="268.04" cy="241.55" r="1.4" fill="#b81e28"/>
<circle cx="273.27" cy="256.56" r="1.4" fill="#b81e28"/>
<circle cx="278.5" cy="249.79" r="1.4" fill="#b81e28"/>
<circle cx="283.74" cy="226" r="1.4" fill="#b81e28"/>
<circle cx="288.98" cy="233.97" r="1.4" fill="#b81e28"/>
<circle cx="294.21" cy="234.5" r="1.4" fill="#b81e28"/>
<circle cx="299.44" cy="227.33" r="1.4" fill="#b81e28"/>
<circle cx="304.68" cy="242.74" r="1.4" fill="#b81e28"/>
<circle cx="309.92" cy="257.36" r="1.4" fill="#b81e28"/>
<circle cx="315.15" cy="257.36" r="1.4" fill="#b81e28"/>
<circle cx="320.38" cy="257.36" r="1.4" fill="#b81e28"/>
<circle cx="325.62" cy="242.74" r="1.4" fill="#b81e28"/>
<circle cx="330.86" cy="242.74" r="1.4" fill="#b81e28"/>
<circle cx="336.09" cy="235.83" r="1.4" fill="#b81e28"/>
<circle cx="341.33" cy="221.75" r="1.4" fill="#b81e28"/>
<circle cx="346.56" cy="185.61" r="1.4" fill="#b81e28"/>
<text x="0" y="295.1" font-size="7.4" fill="#111">(c1)</text>
<path d="M32.2 300.9V407.2H115.96" fill="none" stroke="#6e6e6e" stroke-width="0.9"/>
<path d="M30 407.2H32.2M30 371.77H32.2M30 336.33H32.2M30 300.9H32.2M32.2 407.2v2.0M42.67 407.2v2.0M53.14 407.2v2.0M63.61 407.2v2.0M74.08 407.2v2.0M84.55 407.2v2.0M95.02 407.2v2.0M105.49 407.2v2.0M115.96 407.2v2.0" fill="none" stroke="#6e6e6e" stroke-width="0.9"/>
<path d="M63.61 407.2v-8.6" stroke="#6e6e6e" stroke-width="0.9"/>
<path d="M89.78 407.2v-8" stroke="#6e6e6e" stroke-width="0.9"/>
<path d="M105.49 407.2v-7" stroke="#6e6e6e" stroke-width="0.9" stroke-dasharray="1 0.8"/>
<text x="27.1" y="409.5" font-size="6.8" fill="#2e2e2e" text-anchor="end" textLength="11.7" lengthAdjust="spacingAndGlyphs">0.00</text>
<text x="27.1" y="374.07" font-size="6.8" fill="#2e2e2e" text-anchor="end" textLength="11.7" lengthAdjust="spacingAndGlyphs">0.20</text>
<text x="27.1" y="338.63" font-size="6.8" fill="#2e2e2e" text-anchor="end" textLength="11.7" lengthAdjust="spacingAndGlyphs">0.40</text>
<text x="27.1" y="303.2" font-size="6.8" fill="#2e2e2e" text-anchor="end" textLength="11.7" lengthAdjust="spacingAndGlyphs">0.60</text>
<text transform="translate(33.8 414.3) rotate(-45)" font-size="7.4" fill="#2e2e2e" text-anchor="end" textLength="14.2" lengthAdjust="spacingAndGlyphs">2006</text>
<text transform="translate(44.27 414.3) rotate(-45)" font-size="7.4" fill="#2e2e2e" text-anchor="end" textLength="14.2" lengthAdjust="spacingAndGlyphs">2008</text>
<text transform="translate(54.74 414.3) rotate(-45)" font-size="7.4" fill="#2e2e2e" text-anchor="end" textLength="14.2" lengthAdjust="spacingAndGlyphs">2010</text>
<text transform="translate(65.21 414.3) rotate(-45)" font-size="7.4" fill="#2e2e2e" text-anchor="end" textLength="14.2" lengthAdjust="spacingAndGlyphs">2012</text>
<text transform="translate(75.68 414.3) rotate(-45)" font-size="7.4" fill="#2e2e2e" text-anchor="end" textLength="14.2" lengthAdjust="spacingAndGlyphs">2014</text>
<text transform="translate(86.15 414.3) rotate(-45)" font-size="7.4" fill="#2e2e2e" text-anchor="end" textLength="14.2" lengthAdjust="spacingAndGlyphs">2016</text>
<text transform="translate(96.62 414.3) rotate(-45)" font-size="7.4" fill="#2e2e2e" text-anchor="end" textLength="14.2" lengthAdjust="spacingAndGlyphs">2018</text>
<text transform="translate(107.09 414.3) rotate(-45)" font-size="7.4" fill="#2e2e2e" text-anchor="end" textLength="14.2" lengthAdjust="spacingAndGlyphs">2020</text>
<text transform="translate(117.56 414.3) rotate(-45)" font-size="7.4" fill="#2e2e2e" text-anchor="end" textLength="14.2" lengthAdjust="spacingAndGlyphs">2022</text>
<path d="M37.44 348.74 L63.61 386.29" fill="none" stroke="#2626b8" stroke-width="1.1"/>
<path d="M63.61 386.29 L63.61 332.79" fill="none" stroke="#2626b8" stroke-width="1.1"/>
<path d="M63.61 332.79 L89.78 406.14" fill="none" stroke="#2626b8" stroke-width="1.1"/>
<path d="M89.78 407.2 L89.78 388.07" fill="none" stroke="#2626b8" stroke-width="0.7" stroke-dasharray="0.9 0.9" opacity="0.8"/>
<path d="M89.78 388.07 L115.96 376.37" fill="none" stroke="#2626b8" stroke-width="0.7" stroke-dasharray="1.3 0.9" opacity="0.8"/>
<path d="M37.44 352.28 L63.61 343.42" fill="none" stroke="#d82a2e" stroke-width="0.7" stroke-dasharray="1.3 0.9" opacity="0.8"/>
<path d="M63.61 336.33 L89.78 385.94" fill="none" stroke="#d82a2e" stroke-width="1.1"/>
<path d="M89.78 381.87 L115.96 338.99" fill="none" stroke="#d82a2e" stroke-width="0.7" stroke-dasharray="1.3 0.9" opacity="0.8"/>
<circle cx="37.44" cy="366.1" r="1.4" fill="#1414a8"/>
<circle cx="42.67" cy="334.56" r="1.4" fill="#1414a8"/>
<circle cx="47.91" cy="386.29" r="1.4" fill="#1414a8"/>
<circle cx="53.14" cy="355.29" r="1.4" fill="#1414a8"/>
<circle cx="58.38" cy="386.29" r="1.4" fill="#1414a8"/>
<circle cx="63.61" cy="333.68" r="1.4" fill="#1414a8"/>
<circle cx="68.84" cy="322.69" r="1.4" fill="#1414a8"/>
<circle cx="74.08" cy="407.2" r="1.4" fill="#1414a8"/>
<circle cx="79.31" cy="354.05" r="1.4" fill="#1414a8"/>
<circle cx="84.55" cy="396.22" r="1.4" fill="#1414a8"/>
<circle cx="89.78" cy="375.31" r="1.4" fill="#1414a8"/>
<circle cx="95.02" cy="396.22" r="1.4" fill="#1414a8"/>
<circle cx="100.26" cy="385.05" r="1.4" fill="#1414a8"/>
<circle cx="105.49" cy="384.52" r="1.4" fill="#1414a8"/>
<circle cx="110.73" cy="360.61" r="1.4" fill="#1414a8"/>
<circle cx="115.96" cy="395.33" r="1.4" fill="#1414a8"/>
<circle cx="37.44" cy="375.84" r="1.4" fill="#b81e28"/>
<circle cx="42.67" cy="343.42" r="1.4" fill="#b81e28"/>
<circle cx="47.91" cy="322.16" r="1.4" fill="#b81e28"/>
<circle cx="53.14" cy="343.42" r="1.4" fill="#b81e28"/>
<circle cx="58.38" cy="364.5" r="1.4" fill="#b81e28"/>
<circle cx="63.61" cy="343.42" r="1.4" fill="#b81e28"/>
<circle cx="68.84" cy="331.9" r="1.4" fill="#b81e28"/>
<circle cx="74.08" cy="364.5" r="1.4" fill="#b81e28"/>
<circle cx="79.31" cy="363.97" r="1.4" fill="#b81e28"/>
<circle cx="84.55" cy="374.96" r="1.4" fill="#b81e28"/>
<circle cx="89.78" cy="396.22" r="1.4" fill="#b81e28"/>
<circle cx="95.02" cy="363.09" r="1.4" fill="#b81e28"/>
<circle cx="100.26" cy="373.54" r="1.4" fill="#b81e28"/>
<circle cx="105.49" cy="337.75" r="1.4" fill="#b81e28"/>
<circle cx="110.73" cy="324.46" r="1.4" fill="#b81e28"/>
<circle cx="115.96" cy="370.88" r="1.4" fill="#b81e28"/>
<text x="118.5" y="295.1" font-size="7.4" fill="#111">(c2)</text>
<path d="M147.2 300.9V407.2H230.96" fill="none" stroke="#6e6e6e" stroke-width="0.9"/>
<path d="M145 407.2H147.2M145 371.77H147.2M145 336.33H147.2M145 300.9H147.2M147.2 407.2v2.0M157.67 407.2v2.0M168.14 407.2v2.0M178.61 407.2v2.0M189.08 407.2v2.0M199.55 407.2v2.0M210.02 407.2v2.0M220.49 407.2v2.0M230.96 407.2v2.0" fill="none" stroke="#6e6e6e" stroke-width="0.9"/>
<path d="M178.61 407.2v-10" stroke="#6e6e6e" stroke-width="0.9"/>
<path d="M204.78 407.2v-10" stroke="#6e6e6e" stroke-width="0.9"/>
<path d="M220.49 407.2v-10" stroke="#6e6e6e" stroke-width="0.9" stroke-dasharray="1 0.8"/>
<text x="142.1" y="409.5" font-size="6.8" fill="#2e2e2e" text-anchor="end" textLength="11.7" lengthAdjust="spacingAndGlyphs">0.00</text>
<text x="142.1" y="374.07" font-size="6.8" fill="#2e2e2e" text-anchor="end" textLength="11.7" lengthAdjust="spacingAndGlyphs">0.50</text>
<text x="142.1" y="338.63" font-size="6.8" fill="#2e2e2e" text-anchor="end" textLength="11.7" lengthAdjust="spacingAndGlyphs">1.00</text>
<text x="142.1" y="303.2" font-size="6.8" fill="#2e2e2e" text-anchor="end" textLength="11.7" lengthAdjust="spacingAndGlyphs">1.50</text>
<text transform="translate(148.8 414.3) rotate(-45)" font-size="7.4" fill="#2e2e2e" text-anchor="end" textLength="14.2" lengthAdjust="spacingAndGlyphs">2006</text>
<text transform="translate(159.27 414.3) rotate(-45)" font-size="7.4" fill="#2e2e2e" text-anchor="end" textLength="14.2" lengthAdjust="spacingAndGlyphs">2008</text>
<text transform="translate(169.74 414.3) rotate(-45)" font-size="7.4" fill="#2e2e2e" text-anchor="end" textLength="14.2" lengthAdjust="spacingAndGlyphs">2010</text>
<text transform="translate(180.21 414.3) rotate(-45)" font-size="7.4" fill="#2e2e2e" text-anchor="end" textLength="14.2" lengthAdjust="spacingAndGlyphs">2012</text>
<text transform="translate(190.68 414.3) rotate(-45)" font-size="7.4" fill="#2e2e2e" text-anchor="end" textLength="14.2" lengthAdjust="spacingAndGlyphs">2014</text>
<text transform="translate(201.15 414.3) rotate(-45)" font-size="7.4" fill="#2e2e2e" text-anchor="end" textLength="14.2" lengthAdjust="spacingAndGlyphs">2016</text>
<text transform="translate(211.62 414.3) rotate(-45)" font-size="7.4" fill="#2e2e2e" text-anchor="end" textLength="14.2" lengthAdjust="spacingAndGlyphs">2018</text>
<text transform="translate(222.09 414.3) rotate(-45)" font-size="7.4" fill="#2e2e2e" text-anchor="end" textLength="14.2" lengthAdjust="spacingAndGlyphs">2020</text>
<text transform="translate(232.56 414.3) rotate(-45)" font-size="7.4" fill="#2e2e2e" text-anchor="end" textLength="14.2" lengthAdjust="spacingAndGlyphs">2022</text>
<path d="M152.44 343.77 L178.61 360.78" fill="none" stroke="#2626b8" stroke-width="0.7" stroke-dasharray="1.3 0.9" opacity="0.8"/>
<path d="M178.61 360.78 L178.61 375.31" fill="none" stroke="#2626b8" stroke-width="0.7" stroke-dasharray="0.9 0.9" opacity="0.8"/>
<path d="M178.61 375.31 L204.78 369.29" fill="none" stroke="#2626b8" stroke-width="0.7" stroke-dasharray="1.3 0.9" opacity="0.8"/>
<path d="M204.78 369.29 L204.78 380.06" fill="none" stroke="#2626b8" stroke-width="0.7" stroke-dasharray="0.9 0.9" opacity="0.8"/>
<path d="M204.78 380.06 L230.96 365.53" fill="none" stroke="#2626b8" stroke-width="0.7" stroke-dasharray="1.3 0.9" opacity="0.8"/>
<path d="M152.44 379.99 L178.61 368.72" fill="none" stroke="#d82a2e" stroke-width="0.7" stroke-dasharray="1.3 0.9" opacity="0.8"/>
<path d="M178.61 368.72 L178.61 387.14" fill="none" stroke="#d82a2e" stroke-width="0.7" stroke-dasharray="0.9 0.9" opacity="0.8"/>
<path d="M178.61 387.14 L204.78 383.25" fill="none" stroke="#d82a2e" stroke-width="0.7" stroke-dasharray="1.3 0.9" opacity="0.8"/>
<path d="M204.78 383.25 L204.78 381.69" fill="none" stroke="#d82a2e" stroke-width="0.7" stroke-dasharray="0.9 0.9" opacity="0.8"/>
<path d="M204.78 381.69 L230.96 382.89" fill="none" stroke="#d82a2e" stroke-width="0.7" stroke-dasharray="1.3 0.9" opacity="0.8"/>
<circle cx="152.44" cy="349.09" r="1.4" fill="#1414a8"/>
<circle cx="157.67" cy="361.49" r="1.4" fill="#1414a8"/>
<circle cx="162.91" cy="327.83" r="1.4" fill="#1414a8"/>
<circle cx="168.14" cy="336.69" r="1.4" fill="#1414a8"/>
<circle cx="173.38" cy="382.4" r="1.4" fill="#1414a8"/>
<circle cx="178.61" cy="377.79" r="1.4" fill="#1414a8"/>
<circle cx="183.84" cy="377.44" r="1.4" fill="#1414a8"/>
<circle cx="189.08" cy="355.47" r="1.4" fill="#1414a8"/>
<circle cx="194.31" cy="372.62" r="1.4" fill="#1414a8"/>
<circle cx="199.55" cy="381.33" r="1.4" fill="#1414a8"/>
<circle cx="204.78" cy="372.62" r="1.4" fill="#1414a8"/>
<circle cx="215.25" cy="368.22" r="1.4" fill="#1414a8"/>
<circle cx="220.49" cy="363.97" r="1.4" fill="#1414a8"/>
<circle cx="225.72" cy="376.94" r="1.4" fill="#1414a8"/>
<circle cx="230.96" cy="363.97" r="1.4" fill="#1414a8"/>
<circle cx="152.44" cy="369.64" r="1.4" fill="#b81e28"/>
<circle cx="157.67" cy="382.75" r="1.4" fill="#b81e28"/>
<circle cx="162.91" cy="388.99" r="1.4" fill="#b81e28"/>
<circle cx="168.14" cy="359.72" r="1.4" fill="#b81e28"/>
<circle cx="173.38" cy="372.12" r="1.4" fill="#b81e28"/>
<circle cx="178.61" cy="395.86" r="1.4" fill="#b81e28"/>
<circle cx="183.84" cy="384.52" r="1.4" fill="#b81e28"/>
<circle cx="189.08" cy="378.5" r="1.4" fill="#b81e28"/>
<circle cx="194.31" cy="378.85" r="1.4" fill="#b81e28"/>
<circle cx="199.55" cy="396.07" r="1.4" fill="#b81e28"/>
<circle cx="204.78" cy="379.21" r="1.4" fill="#b81e28"/>
<circle cx="210.02" cy="390.9" r="1.4" fill="#b81e28"/>
<circle cx="215.25" cy="374.81" r="1.4" fill="#b81e28"/>
<circle cx="220.49" cy="380.06" r="1.4" fill="#b81e28"/>
<circle cx="225.72" cy="375.03" r="1.4" fill="#b81e28"/>
<circle cx="230.96" cy="396.92" r="1.4" fill="#b81e28"/>
<text x="235.1" y="295.1" font-size="7.4" fill="#111">(c3)</text>
<path d="M262.4 300.9V407.2H346.16" fill="none" stroke="#6e6e6e" stroke-width="0.9"/>
<path d="M260.2 407.2H262.4M260.2 371.77H262.4M260.2 336.33H262.4M260.2 300.9H262.4M262.4 407.2v2.0M272.87 407.2v2.0M283.34 407.2v2.0M293.81 407.2v2.0M304.28 407.2v2.0M314.75 407.2v2.0M325.22 407.2v2.0M335.69 407.2v2.0M346.16 407.2v2.0" fill="none" stroke="#6e6e6e" stroke-width="0.9"/>
<path d="M293.81 407.2v-9.5" stroke="#6e6e6e" stroke-width="0.9"/>
<path d="M319.98 407.2v-9" stroke="#6e6e6e" stroke-width="0.9"/>
<path d="M335.69 407.2v-8" stroke="#6e6e6e" stroke-width="0.9" stroke-dasharray="1 0.8"/>
<text x="257.3" y="409.5" font-size="6.8" fill="#2e2e2e" text-anchor="end" textLength="11.7" lengthAdjust="spacingAndGlyphs">0.00</text>
<text x="257.3" y="388.24" font-size="6.8" fill="#2e2e2e" text-anchor="end" textLength="11.7" lengthAdjust="spacingAndGlyphs">0.50</text>
<text x="257.3" y="366.98" font-size="6.8" fill="#2e2e2e" text-anchor="end" textLength="11.7" lengthAdjust="spacingAndGlyphs">1.00</text>
<text x="257.3" y="345.72" font-size="6.8" fill="#2e2e2e" text-anchor="end" textLength="11.7" lengthAdjust="spacingAndGlyphs">1.50</text>
<text x="257.3" y="324.46" font-size="6.8" fill="#2e2e2e" text-anchor="end" textLength="11.7" lengthAdjust="spacingAndGlyphs">2.00</text>
<text x="257.3" y="303.2" font-size="6.8" fill="#2e2e2e" text-anchor="end" textLength="11.7" lengthAdjust="spacingAndGlyphs">2.50</text>
<text transform="translate(264 414.3) rotate(-45)" font-size="7.4" fill="#2e2e2e" text-anchor="end" textLength="14.2" lengthAdjust="spacingAndGlyphs">2006</text>
<text transform="translate(274.47 414.3) rotate(-45)" font-size="7.4" fill="#2e2e2e" text-anchor="end" textLength="14.2" lengthAdjust="spacingAndGlyphs">2008</text>
<text transform="translate(284.94 414.3) rotate(-45)" font-size="7.4" fill="#2e2e2e" text-anchor="end" textLength="14.2" lengthAdjust="spacingAndGlyphs">2010</text>
<text transform="translate(295.41 414.3) rotate(-45)" font-size="7.4" fill="#2e2e2e" text-anchor="end" textLength="14.2" lengthAdjust="spacingAndGlyphs">2012</text>
<text transform="translate(305.88 414.3) rotate(-45)" font-size="7.4" fill="#2e2e2e" text-anchor="end" textLength="14.2" lengthAdjust="spacingAndGlyphs">2014</text>
<text transform="translate(316.35 414.3) rotate(-45)" font-size="7.4" fill="#2e2e2e" text-anchor="end" textLength="14.2" lengthAdjust="spacingAndGlyphs">2016</text>
<text transform="translate(326.82 414.3) rotate(-45)" font-size="7.4" fill="#2e2e2e" text-anchor="end" textLength="14.2" lengthAdjust="spacingAndGlyphs">2018</text>
<text transform="translate(337.29 414.3) rotate(-45)" font-size="7.4" fill="#2e2e2e" text-anchor="end" textLength="14.2" lengthAdjust="spacingAndGlyphs">2020</text>
<text transform="translate(347.76 414.3) rotate(-45)" font-size="7.4" fill="#2e2e2e" text-anchor="end" textLength="14.2" lengthAdjust="spacingAndGlyphs">2022</text>
<circle cx="267.63" cy="347.67" r="1.4" fill="#1414a8"/>
<circle cx="272.87" cy="374.88" r="1.4" fill="#1414a8"/>
<circle cx="278.1" cy="350.86" r="1.4" fill="#1414a8"/>
<circle cx="283.34" cy="347.25" r="1.4" fill="#1414a8"/>
<circle cx="288.57" cy="393.04" r="1.4" fill="#1414a8"/>
<circle cx="293.81" cy="349.59" r="1.4" fill="#1414a8"/>
<circle cx="299.04" cy="334.92" r="1.4" fill="#1414a8"/>
<circle cx="304.28" cy="349.8" r="1.4" fill="#1414a8"/>
<circle cx="309.51" cy="378.5" r="1.4" fill="#1414a8"/>
<circle cx="314.75" cy="378.5" r="1.4" fill="#1414a8"/>
<circle cx="319.98" cy="378.5" r="1.4" fill="#1414a8"/>
<circle cx="325.22" cy="407.2" r="1.4" fill="#1414a8"/>
<circle cx="330.45" cy="407.2" r="1.4" fill="#1414a8"/>
<circle cx="335.69" cy="407.2" r="1.4" fill="#1414a8"/>
<circle cx="340.92" cy="393.04" r="1.4" fill="#1414a8"/>
<circle cx="346.16" cy="378.5" r="1.4" fill="#1414a8"/>
<circle cx="267.63" cy="346.61" r="1.4" fill="#b81e28"/>
<circle cx="272.87" cy="328.75" r="1.4" fill="#b81e28"/>
<circle cx="278.1" cy="371.7" r="1.4" fill="#b81e28"/>
<circle cx="283.34" cy="382.75" r="1.4" fill="#b81e28"/>
<circle cx="288.57" cy="334.28" r="1.4" fill="#b81e28"/>
<circle cx="293.81" cy="395.51" r="1.4" fill="#b81e28"/>
<circle cx="299.04" cy="371.7" r="1.4" fill="#b81e28"/>
<circle cx="304.28" cy="407.2" r="1.4" fill="#b81e28"/>
<circle cx="309.51" cy="361.15" r="1.4" fill="#b81e28"/>
<circle cx="314.75" cy="384.24" r="1.4" fill="#b81e28"/>
<circle cx="319.98" cy="384.24" r="1.4" fill="#b81e28"/>
<circle cx="325.22" cy="384.24" r="1.4" fill="#b81e28"/>
<circle cx="330.45" cy="395.72" r="1.4" fill="#b81e28"/>
<circle cx="335.69" cy="384.24" r="1.4" fill="#b81e28"/>
<circle cx="340.92" cy="396.14" r="1.4" fill="#b81e28"/>
<circle cx="346.16" cy="407.2" r="1.4" fill="#b81e28"/>
<text x="0" y="437.5" font-size="7.4" fill="#111">(d1)</text>
<path d="M32.2 446V552.3H115.96" fill="none" stroke="#6e6e6e" stroke-width="0.9"/>
<path d="M30 552.3H32.2M30 516.87H32.2M30 481.43H32.2M30 446H32.2M32.2 552.3v2.0M42.67 552.3v2.0M53.14 552.3v2.0M63.61 552.3v2.0M74.08 552.3v2.0M84.55 552.3v2.0M95.02 552.3v2.0M105.49 552.3v2.0M115.96 552.3v2.0" fill="none" stroke="#6e6e6e" stroke-width="0.9"/>
<path d="M63.61 552.3v-7.7" stroke="#6e6e6e" stroke-width="0.9"/>
<path d="M89.78 552.3v-7.7" stroke="#6e6e6e" stroke-width="0.9"/>
<path d="M105.49 552.3v-7.7" stroke="#6e6e6e" stroke-width="0.9" stroke-dasharray="1 0.8"/>
<text x="27.1" y="554.6" font-size="6.8" fill="#2e2e2e" text-anchor="end" textLength="11.7" lengthAdjust="spacingAndGlyphs">0.00</text>
<text x="27.1" y="519.17" font-size="6.8" fill="#2e2e2e" text-anchor="end" textLength="11.7" lengthAdjust="spacingAndGlyphs">0.50</text>
<text x="27.1" y="483.73" font-size="6.8" fill="#2e2e2e" text-anchor="end" textLength="11.7" lengthAdjust="spacingAndGlyphs">1.00</text>
<text x="27.1" y="448.3" font-size="6.8" fill="#2e2e2e" text-anchor="end" textLength="11.7" lengthAdjust="spacingAndGlyphs">1.50</text>
<text transform="translate(33.8 559.4) rotate(-45)" font-size="7.4" fill="#2e2e2e" text-anchor="end" textLength="14.2" lengthAdjust="spacingAndGlyphs">2006</text>
<text transform="translate(44.27 559.4) rotate(-45)" font-size="7.4" fill="#2e2e2e" text-anchor="end" textLength="14.2" lengthAdjust="spacingAndGlyphs">2008</text>
<text transform="translate(54.74 559.4) rotate(-45)" font-size="7.4" fill="#2e2e2e" text-anchor="end" textLength="14.2" lengthAdjust="spacingAndGlyphs">2010</text>
<text transform="translate(65.21 559.4) rotate(-45)" font-size="7.4" fill="#2e2e2e" text-anchor="end" textLength="14.2" lengthAdjust="spacingAndGlyphs">2012</text>
<text transform="translate(75.68 559.4) rotate(-45)" font-size="7.4" fill="#2e2e2e" text-anchor="end" textLength="14.2" lengthAdjust="spacingAndGlyphs">2014</text>
<text transform="translate(86.15 559.4) rotate(-45)" font-size="7.4" fill="#2e2e2e" text-anchor="end" textLength="14.2" lengthAdjust="spacingAndGlyphs">2016</text>
<text transform="translate(96.62 559.4) rotate(-45)" font-size="7.4" fill="#2e2e2e" text-anchor="end" textLength="14.2" lengthAdjust="spacingAndGlyphs">2018</text>
<text transform="translate(107.09 559.4) rotate(-45)" font-size="7.4" fill="#2e2e2e" text-anchor="end" textLength="14.2" lengthAdjust="spacingAndGlyphs">2020</text>
<text transform="translate(117.56 559.4) rotate(-45)" font-size="7.4" fill="#2e2e2e" text-anchor="end" textLength="14.2" lengthAdjust="spacingAndGlyphs">2022</text>
<path d="M37.44 527 L63.61 505.6" fill="none" stroke="#2626b8" stroke-width="0.7" stroke-dasharray="1.3 0.9" opacity="0.8"/>
<path d="M63.61 505.6 L63.61 522.75" fill="none" stroke="#2626b8" stroke-width="0.7" stroke-dasharray="0.9 0.9" opacity="0.8"/>
<path d="M63.61 522.75 L89.78 512.61" fill="none" stroke="#2626b8" stroke-width="0.7" stroke-dasharray="1.3 0.9" opacity="0.8"/>
<path d="M89.78 512.61 L115.96 484.48" fill="none" stroke="#2626b8" stroke-width="1.1"/>
<path d="M37.44 547.91 L63.61 519.49" fill="none" stroke="#d82a2e" stroke-width="1.1"/>
<path d="M63.61 519.49 L63.61 545.21" fill="none" stroke="#d82a2e" stroke-width="1.1"/>
<path d="M63.61 545.21 L89.78 508.72" fill="none" stroke="#d82a2e" stroke-width="1.1"/>
<path d="M89.78 508.72 L89.78 520.55" fill="none" stroke="#d82a2e" stroke-width="0.7" stroke-dasharray="0.9 0.9" opacity="0.8"/>
<path d="M89.78 520.55 L115.96 493.48" fill="none" stroke="#d82a2e" stroke-width="1.1"/>
<circle cx="37.44" cy="519.13" r="1.4" fill="#1414a8"/>
<circle cx="42.67" cy="531.18" r="1.4" fill="#1414a8"/>
<circle cx="47.91" cy="518.78" r="1.4" fill="#1414a8"/>
<circle cx="53.14" cy="498.44" r="1.4" fill="#1414a8"/>
<circle cx="58.38" cy="527.21" r="1.4" fill="#1414a8"/>
<circle cx="63.61" cy="510.49" r="1.4" fill="#1414a8"/>
<circle cx="68.84" cy="518.5" r="1.4" fill="#1414a8"/>
<circle cx="74.08" cy="535.5" r="1.4" fill="#1414a8"/>
<circle cx="79.31" cy="505.53" r="1.4" fill="#1414a8"/>
<circle cx="84.55" cy="509.78" r="1.4" fill="#1414a8"/>
<circle cx="89.78" cy="526.79" r="1.4" fill="#1414a8"/>
<circle cx="95.02" cy="491.57" r="1.4" fill="#1414a8"/>
<circle cx="100.26" cy="512.61" r="1.4" fill="#1414a8"/>
<circle cx="105.49" cy="484.48" r="1.4" fill="#1414a8"/>
<circle cx="110.73" cy="491.85" r="1.4" fill="#1414a8"/>
<circle cx="115.96" cy="491.21" r="1.4" fill="#1414a8"/>
<circle cx="37.44" cy="543.94" r="1.4" fill="#b81e28"/>
<circle cx="42.67" cy="543.37" r="1.4" fill="#b81e28"/>
<circle cx="47.91" cy="539.33" r="1.4" fill="#b81e28"/>
<circle cx="53.14" cy="535.08" r="1.4" fill="#b81e28"/>
<circle cx="58.38" cy="518.07" r="1.4" fill="#b81e28"/>
<circle cx="63.61" cy="521.54" r="1.4" fill="#b81e28"/>
<circle cx="68.84" cy="538.98" r="1.4" fill="#b81e28"/>
<circle cx="74.08" cy="530.83" r="1.4" fill="#b81e28"/>
<circle cx="79.31" cy="526.5" r="1.4" fill="#b81e28"/>
<circle cx="84.55" cy="517.93" r="1.4" fill="#b81e28"/>
<circle cx="89.78" cy="513.47" r="1.4" fill="#b81e28"/>
<circle cx="100.26" cy="512.26" r="1.4" fill="#b81e28"/>
<circle cx="105.49" cy="506.02" r="1.4" fill="#b81e28"/>
<circle cx="110.73" cy="500.14" r="1.4" fill="#b81e28"/>
<circle cx="115.96" cy="494.19" r="1.4" fill="#b81e28"/>
<text x="118.5" y="437.5" font-size="7.4" fill="#111">(d2)</text>
<path d="M147.2 446V552.3H230.96" fill="none" stroke="#6e6e6e" stroke-width="0.9"/>
<path d="M145 552.3H147.2M145 516.87H147.2M145 481.43H147.2M145 446H147.2M147.2 552.3v2.0M157.67 552.3v2.0M168.14 552.3v2.0M178.61 552.3v2.0M189.08 552.3v2.0M199.55 552.3v2.0M210.02 552.3v2.0M220.49 552.3v2.0M230.96 552.3v2.0" fill="none" stroke="#6e6e6e" stroke-width="0.9"/>
<path d="M178.61 552.3v-9" stroke="#6e6e6e" stroke-width="0.9"/>
<path d="M204.78 552.3v-9" stroke="#6e6e6e" stroke-width="0.9"/>
<path d="M220.49 552.3v-8" stroke="#6e6e6e" stroke-width="0.9" stroke-dasharray="1 0.8"/>
<text x="142.1" y="554.6" font-size="6.8" fill="#2e2e2e" text-anchor="end" textLength="11.7" lengthAdjust="spacingAndGlyphs">0.00</text>
<text x="142.1" y="536.88" font-size="6.8" fill="#2e2e2e" text-anchor="end" textLength="11.7" lengthAdjust="spacingAndGlyphs">0.20</text>
<text x="142.1" y="519.17" font-size="6.8" fill="#2e2e2e" text-anchor="end" textLength="11.7" lengthAdjust="spacingAndGlyphs">0.40</text>
<text x="142.1" y="501.45" font-size="6.8" fill="#2e2e2e" text-anchor="end" textLength="11.7" lengthAdjust="spacingAndGlyphs">0.60</text>
<text x="142.1" y="483.73" font-size="6.8" fill="#2e2e2e" text-anchor="end" textLength="11.7" lengthAdjust="spacingAndGlyphs">0.80</text>
<text x="142.1" y="466.02" font-size="6.8" fill="#2e2e2e" text-anchor="end" textLength="11.7" lengthAdjust="spacingAndGlyphs">1.00</text>
<text x="142.1" y="448.3" font-size="6.8" fill="#2e2e2e" text-anchor="end" textLength="11.7" lengthAdjust="spacingAndGlyphs">1.20</text>
<text transform="translate(148.8 559.4) rotate(-45)" font-size="7.4" fill="#2e2e2e" text-anchor="end" textLength="14.2" lengthAdjust="spacingAndGlyphs">2006</text>
<text transform="translate(159.27 559.4) rotate(-45)" font-size="7.4" fill="#2e2e2e" text-anchor="end" textLength="14.2" lengthAdjust="spacingAndGlyphs">2008</text>
<text transform="translate(169.74 559.4) rotate(-45)" font-size="7.4" fill="#2e2e2e" text-anchor="end" textLength="14.2" lengthAdjust="spacingAndGlyphs">2010</text>
<text transform="translate(180.21 559.4) rotate(-45)" font-size="7.4" fill="#2e2e2e" text-anchor="end" textLength="14.2" lengthAdjust="spacingAndGlyphs">2012</text>
<text transform="translate(190.68 559.4) rotate(-45)" font-size="7.4" fill="#2e2e2e" text-anchor="end" textLength="14.2" lengthAdjust="spacingAndGlyphs">2014</text>
<text transform="translate(201.15 559.4) rotate(-45)" font-size="7.4" fill="#2e2e2e" text-anchor="end" textLength="14.2" lengthAdjust="spacingAndGlyphs">2016</text>
<text transform="translate(211.62 559.4) rotate(-45)" font-size="7.4" fill="#2e2e2e" text-anchor="end" textLength="14.2" lengthAdjust="spacingAndGlyphs">2018</text>
<text transform="translate(222.09 559.4) rotate(-45)" font-size="7.4" fill="#2e2e2e" text-anchor="end" textLength="14.2" lengthAdjust="spacingAndGlyphs">2020</text>
<text transform="translate(232.56 559.4) rotate(-45)" font-size="7.4" fill="#2e2e2e" text-anchor="end" textLength="14.2" lengthAdjust="spacingAndGlyphs">2022</text>
<path d="M152.44 529.09 L178.61 505.26" fill="none" stroke="#2626b8" stroke-width="1.1"/>
<path d="M178.61 505.26 L178.61 521.83" fill="none" stroke="#2626b8" stroke-width="1.1"/>
<path d="M178.61 521.83 L204.78 511.29" fill="none" stroke="#2626b8" stroke-width="1.1"/>
<path d="M204.78 511.29 L204.78 524.93" fill="none" stroke="#2626b8" stroke-width="1.1"/>
<path d="M204.78 524.93 L230.96 479.93" fill="none" stroke="#2626b8" stroke-width="1.1"/>
<path d="M152.44 539.37 L178.61 514.12" fill="none" stroke="#d82a2e" stroke-width="1.1"/>
<path d="M178.61 514.12 L178.61 534.58" fill="none" stroke="#d82a2e" stroke-width="1.1"/>
<path d="M178.61 534.58 L204.78 541.85" fill="none" stroke="#d82a2e" stroke-width="0.7" stroke-dasharray="1.3 0.9" opacity="0.8"/>
<path d="M204.78 541.85 L204.78 524.84" fill="none" stroke="#d82a2e" stroke-width="1.1"/>
<path d="M204.78 519.79 L230.96 519.79" fill="none" stroke="#d82a2e" stroke-width="0.7" stroke-dasharray="0.9 0.9" opacity="0.8"/>
<circle cx="152.44" cy="536.18" r="1.4" fill="#1414a8"/>
<circle cx="157.67" cy="515.63" r="1.4" fill="#1414a8"/>
<circle cx="162.91" cy="531.13" r="1.4" fill="#1414a8"/>
<circle cx="168.14" cy="500.57" r="1.4" fill="#1414a8"/>
<circle cx="173.38" cy="520.59" r="1.4" fill="#1414a8"/>
<circle cx="178.61" cy="520.14" r="1.4" fill="#1414a8"/>
<circle cx="183.84" cy="520.14" r="1.4" fill="#1414a8"/>
<circle cx="189.08" cy="514.47" r="1.4" fill="#1414a8"/>
<circle cx="194.31" cy="520.06" r="1.4" fill="#1414a8"/>
<circle cx="199.55" cy="508.72" r="1.4" fill="#1414a8"/>
<circle cx="204.78" cy="535.73" r="1.4" fill="#1414a8"/>
<circle cx="210.02" cy="508.72" r="1.4" fill="#1414a8"/>
<circle cx="215.25" cy="518.82" r="1.4" fill="#1414a8"/>
<circle cx="220.49" cy="470.71" r="1.4" fill="#1414a8"/>
<circle cx="225.72" cy="514.21" r="1.4" fill="#1414a8"/>
<circle cx="230.96" cy="465.58" r="1.4" fill="#1414a8"/>
<circle cx="152.44" cy="544.06" r="1.4" fill="#b81e28"/>
<circle cx="157.67" cy="528.74" r="1.4" fill="#b81e28"/>
<circle cx="162.91" cy="529.45" r="1.4" fill="#b81e28"/>
<circle cx="168.14" cy="529.8" r="1.4" fill="#b81e28"/>
<circle cx="173.38" cy="515.09" r="1.4" fill="#b81e28"/>
<circle cx="178.61" cy="530.15" r="1.4" fill="#b81e28"/>
<circle cx="183.84" cy="544.77" r="1.4" fill="#b81e28"/>
<circle cx="189.08" cy="530.42" r="1.4" fill="#b81e28"/>
<circle cx="194.31" cy="544.77" r="1.4" fill="#b81e28"/>
<circle cx="199.55" cy="530.86" r="1.4" fill="#b81e28"/>
<circle cx="204.78" cy="537.86" r="1.4" fill="#b81e28"/>
<circle cx="210.02" cy="511.02" r="1.4" fill="#b81e28"/>
<circle cx="215.25" cy="518.2" r="1.4" fill="#b81e28"/>
<circle cx="220.49" cy="511.02" r="1.4" fill="#b81e28"/>
<circle cx="225.72" cy="524.93" r="1.4" fill="#b81e28"/>
<circle cx="230.96" cy="524.93" r="1.4" fill="#b81e28"/>
<text x="235.1" y="437.5" font-size="7.4" fill="#111">(d3)</text>
<path d="M262.4 446V552.3H346.16" fill="none" stroke="#6e6e6e" stroke-width="0.9"/>
<path d="M260.2 552.3H262.4M260.2 516.87H262.4M260.2 481.43H262.4M260.2 446H262.4M262.4 552.3v2.0M272.87 552.3v2.0M283.34 552.3v2.0M293.81 552.3v2.0M304.28 552.3v2.0M314.75 552.3v2.0M325.22 552.3v2.0M335.69 552.3v2.0M346.16 552.3v2.0" fill="none" stroke="#6e6e6e" stroke-width="0.9"/>
<path d="M293.81 552.3v-11" stroke="#6e6e6e" stroke-width="0.9"/>
<path d="M319.98 552.3v-11" stroke="#6e6e6e" stroke-width="0.9"/>
<path d="M335.69 552.3v-11" stroke="#6e6e6e" stroke-width="0.9" stroke-dasharray="1 0.8"/>
<text x="257.3" y="554.6" font-size="6.8" fill="#2e2e2e" text-anchor="end" textLength="11.7" lengthAdjust="spacingAndGlyphs">0.00</text>
<text x="257.3" y="528.02" font-size="6.8" fill="#2e2e2e" text-anchor="end" textLength="11.7" lengthAdjust="spacingAndGlyphs">0.50</text>
<text x="257.3" y="501.45" font-size="6.8" fill="#2e2e2e" text-anchor="end" textLength="11.7" lengthAdjust="spacingAndGlyphs">1.00</text>
<text x="257.3" y="474.87" font-size="6.8" fill="#2e2e2e" text-anchor="end" textLength="11.7" lengthAdjust="spacingAndGlyphs">1.50</text>
<text x="257.3" y="448.3" font-size="6.8" fill="#2e2e2e" text-anchor="end" textLength="11.7" lengthAdjust="spacingAndGlyphs">2.00</text>
<text transform="translate(264 559.4) rotate(-45)" font-size="7.4" fill="#2e2e2e" text-anchor="end" textLength="14.2" lengthAdjust="spacingAndGlyphs">2006</text>
<text transform="translate(274.47 559.4) rotate(-45)" font-size="7.4" fill="#2e2e2e" text-anchor="end" textLength="14.2" lengthAdjust="spacingAndGlyphs">2008</text>
<text transform="translate(284.94 559.4) rotate(-45)" font-size="7.4" fill="#2e2e2e" text-anchor="end" textLength="14.2" lengthAdjust="spacingAndGlyphs">2010</text>
<text transform="translate(295.41 559.4) rotate(-45)" font-size="7.4" fill="#2e2e2e" text-anchor="end" textLength="14.2" lengthAdjust="spacingAndGlyphs">2012</text>
<text transform="translate(305.88 559.4) rotate(-45)" font-size="7.4" fill="#2e2e2e" text-anchor="end" textLength="14.2" lengthAdjust="spacingAndGlyphs">2014</text>
<text transform="translate(316.35 559.4) rotate(-45)" font-size="7.4" fill="#2e2e2e" text-anchor="end" textLength="14.2" lengthAdjust="spacingAndGlyphs">2016</text>
<text transform="translate(326.82 559.4) rotate(-45)" font-size="7.4" fill="#2e2e2e" text-anchor="end" textLength="14.2" lengthAdjust="spacingAndGlyphs">2018</text>
<text transform="translate(337.29 559.4) rotate(-45)" font-size="7.4" fill="#2e2e2e" text-anchor="end" textLength="14.2" lengthAdjust="spacingAndGlyphs">2020</text>
<text transform="translate(347.76 559.4) rotate(-45)" font-size="7.4" fill="#2e2e2e" text-anchor="end" textLength="14.2" lengthAdjust="spacingAndGlyphs">2022</text>
<circle cx="267.63" cy="477.09" r="1.4" fill="#1414a8"/>
<circle cx="272.87" cy="511.11" r="1.4" fill="#1414a8"/>
<circle cx="278.1" cy="516.8" r="1.4" fill="#1414a8"/>
<circle cx="283.34" cy="514.67" r="1.4" fill="#1414a8"/>
<circle cx="288.57" cy="533.8" r="1.4" fill="#1414a8"/>
<circle cx="293.81" cy="533.8" r="1.4" fill="#1414a8"/>
<circle cx="299.04" cy="497.87" r="1.4" fill="#1414a8"/>
<circle cx="304.28" cy="462.48" r="1.4" fill="#1414a8"/>
<circle cx="309.51" cy="533.8" r="1.4" fill="#1414a8"/>
<circle cx="314.75" cy="552.3" r="1.4" fill="#1414a8"/>
<circle cx="319.98" cy="479.48" r="1.4" fill="#1414a8"/>
<circle cx="325.22" cy="552.3" r="1.4" fill="#1414a8"/>
<circle cx="330.45" cy="497.24" r="1.4" fill="#1414a8"/>
<circle cx="335.69" cy="552.3" r="1.4" fill="#1414a8"/>
<circle cx="340.92" cy="533.8" r="1.4" fill="#1414a8"/>
<circle cx="346.16" cy="497.87" r="1.4" fill="#1414a8"/>
<circle cx="267.63" cy="521.26" r="1.4" fill="#b81e28"/>
<circle cx="272.87" cy="552.3" r="1.4" fill="#b81e28"/>
<circle cx="278.1" cy="537.47" r="1.4" fill="#b81e28"/>
<circle cx="283.34" cy="552.3" r="1.4" fill="#b81e28"/>
<circle cx="288.57" cy="506.01" r="1.4" fill="#b81e28"/>
<circle cx="293.81" cy="522.06" r="1.4" fill="#b81e28"/>
<circle cx="299.04" cy="537.47" r="1.4" fill="#b81e28"/>
<circle cx="304.28" cy="537.47" r="1.4" fill="#b81e28"/>
<circle cx="309.51" cy="537.47" r="1.4" fill="#b81e28"/>
<circle cx="314.75" cy="523.07" r="1.4" fill="#b81e28"/>
<circle cx="319.98" cy="494.37" r="1.4" fill="#b81e28"/>
<circle cx="325.22" cy="537.47" r="1.4" fill="#b81e28"/>
<circle cx="330.45" cy="523.07" r="1.4" fill="#b81e28"/>
<circle cx="335.69" cy="508.98" r="1.4" fill="#b81e28"/>
<circle cx="340.92" cy="537.47" r="1.4" fill="#b81e28"/>
<circle cx="346.16" cy="552.3" r="1.4" fill="#b81e28"/>
</g></svg>
</body></html>
